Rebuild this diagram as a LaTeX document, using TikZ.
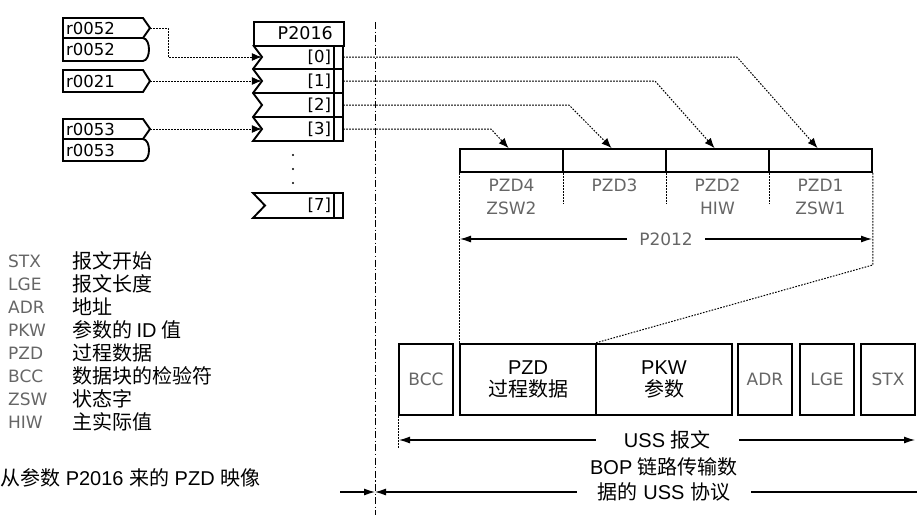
\documentclass[tikz,border=0pt]{standalone}
\usepackage{fontspec}
\setmainfont{Liberation Sans}
\newfontfamily\cjk{Noto Sans CJK SC}
\newfontfamily\dvfont{DejaVu Sans}
\newcommand{\zh}[1]{{\cjk #1}}
\usetikzlibrary{arrows.meta}

\begin{document}
\begin{tikzpicture}[x=1pt,y=-1pt,
        box/.style={draw,line width=1.9pt,inner sep=0pt},
        dots/.style={line width=1pt,dash pattern=on 1.6pt off 1.4pt},
        conn/.style={dots,-{Latex[length=10pt,width=8pt]}},
        dimline/.style={line width=1.1pt,{Latex[length=11pt,width=7pt]}-{Latex[length=11pt,width=7pt]}},
        glabel/.style={text=black!60,font=\dvfont\fontsize{17}{23}\selectfont,inner sep=0pt,align=center},
        legend/.style={text=black!60,font=\dvfont\fontsize{17}{17}\selectfont,inner sep=0pt,anchor=west},
        blabel/.style={font=\dvfont\fontsize{16.5}{16.5}\selectfont,inner sep=0pt},
        big/.style={font=\fontsize{20}{22}\selectfont,align=center,inner sep=0pt},
        cell/.style={box,minimum width=103pt,minimum height=23pt},
        slot/.style={box,minimum width=54pt,minimum height=71pt},
        wide/.style={box,big,minimum width=136pt,minimum height=71pt},
        rowcell/.style={blabel,minimum width=81pt,minimum height=24pt,text width=57pt,align=right}]
    \useasboundingbox (0,0) rectangle (917,515);

    % signal sources
    \draw[box] (63,18) -- (143,18) -- (150,28) -- (143,38) -- (63,38) -- cycle;
    \draw[box] (63,38) -- (143,38) .. controls (151,39) and (151,60) .. (143,61) -- (63,61) -- cycle;
    \draw[box] (63,70) -- (143,70) -- (150,81) -- (143,92) -- (63,92) -- cycle;
    \draw[box] (63,119) -- (143,119) -- (150,129) -- (143,139) -- (63,139) -- cycle;
    \draw[box] (63,139) -- (143,139) .. controls (151,140) and (151,160) .. (143,161) -- (63,161) -- cycle;
    \node[blabel,anchor=west] (r52a) at (66,28) {r0052};
    \node[blabel,anchor=west] (r52b) at (66,49.5) {r0052};
    \node[blabel,anchor=west] (r21) at (66,81) {r0021};
    \node[blabel,anchor=west] (r53a) at (66,129) {r0053};
    \node[blabel,anchor=west] (r53b) at (66,150) {r0053};
    \coordinate (r52tip) at (150,28);
    \coordinate (r21tip) at (150,81);
    \coordinate (r53tip) at (150,129);

    % P2016 block
    \node[box,minimum width=90pt,minimum height=24pt,anchor=north west] (p2016) at (253,21) {};
    \node[blabel,anchor=east,font=\dvfont\fontsize{17.5}{17.5}\selectfont] (p2016txt) at (333,33) {P2016};
    \draw[box] (253,45) -- (262,57) -- (253,69) -- (262,81) -- (253,93) -- (262,105)
        -- (253,117) -- (262,129) -- (253,141) -- (343,141) -- (343,45);
    \draw[box] (253,69) -- (343,69) (253,93) -- (343,93) (253,117) -- (343,117);
    \draw[line width=1.2pt] (334,45) -- (334,141);
    \node[rowcell] (row0) at (302.5,57) {[0]};
    \node[rowcell] (row1) at (302.5,81) {[1]};
    \node[rowcell] (row2) at (302.5,105) {[2]};
    \node[rowcell] (row3) at (302.5,129) {[3]};
    \foreach \y in {155,169,183} \fill (293,\y) circle (1.1pt);
    \draw[box] (253,193) -- (343,193) -- (343,218) -- (253,218) -- (265,205.5) -- cycle;
    \draw[line width=1.2pt] (334,193) -- (334,218);
    \node[rowcell] (row7) at (302.5,205.5) {[7]};

    \draw[line width=1pt,dash pattern=on 7pt off 2.5pt on 1.2pt off 2.5pt] (375,22) -- (375,515);

    \draw[conn] (r52tip) -- ++(18,0) |- (row0.west);
    \draw[conn] (r21tip) -- (row1.west);
    \draw[conn] (r53tip) -- (row3.west);

    % PZD words
    \node[cell] (pzd4) at (511.5,160.5) {};
    \node[cell] (pzd3) at (614.5,160.5) {};
    \node[cell] (pzd2) at (717.5,160.5) {};
    \node[cell] (pzd1) at (820.5,160.5) {};
    \node[glabel] (zsw2) at (511.5,196.5) {PZD4\\ZSW2};
    \node[glabel] (pzd3txt) at (614.5,185) {PZD3};
    \node[glabel] (hiw) at (717.5,196.5) {PZD2\\HIW};
    \node[glabel] (zsw1) at (820.5,196.5) {PZD1\\ZSW1};
    \draw[dots] (pzd4.south east) -- ++(0,31);
    \draw[dots] (pzd3.south east) -- ++(0,31);
    \draw[dots] (pzd2.south east) -- ++(0,31);

    \draw[conn] (row0.east) -- (737,57) -- ([xshift=-3pt]pzd1.north);
    \draw[conn] (row1.east) -- (655,81) -- ([xshift=-3pt]pzd2.north);
    \draw[conn] (row2.east) -- (569,105) -- ([xshift=-3pt]pzd3.north);
    \draw[conn] (row3.east) -- (491,129) -- ([xshift=-3pt]pzd4.north);

    \coordinate (dimL) at (460,239);
    \coordinate (dimR) at (872,239);
    \draw[dimline] (dimL) -- node[glabel,fill=white,inner xsep=12pt] (p2012) {P2012} (dimR);

    % USS telegram
    \node[slot,glabel] (bcc) at (426,379.5) {BCC};
    \node[wide] (pzdf) at (528,379.5) {PZD\\\zh{过程数据}};
    \node[wide] (pkw) at (664,379.5) {PKW\\\zh{参数}};
    \node[slot,glabel] (adr) at (765,379.5) {ADR};
    \node[slot,glabel] (lge) at (827,379.5) {LGE};
    \node[slot,glabel] (stx) at (888,379.5) {STX};
    \draw[dots] (pzd4.south west) -- (pzdf.north west);
    \draw[dots] (pzd1.south east) -- ++(0,92) -- (pkw.north west);
    \draw[dots] (bcc.south west) -- ++(0,32);

    \coordinate (ussL) at (399,440);
    \coordinate (ussR) at (915,440);
    \draw[dimline] (ussL) -- node[big,fill=white,inner xsep=28pt,pos=0.52] (uss) {USS \zh{报文}} (ussR);

    \coordinate (busL) at (340,492);
    \coordinate (busM) at (375,492);
    \coordinate (busR) at (917,492);
    \draw[line width=1.1pt,-{Latex[length=11pt,width=7pt]}] (busL) -- (busM);
    \draw[line width=1.1pt,{Latex[length=11pt,width=7pt]}-] (busM) -- (busR);
    \node[big,font=\fontsize{20}{25}\selectfont,fill=white,inner xsep=13pt] (bop) at (664,479.5)
        {BOP \zh{链路传输数}\\\zh{据的} USS \zh{协议}};

    % legend
    \foreach \ab/\txt [count=\i from 0] in {STX/报文开始,LGE/报文长度,ADR/地址,PKW/{参数的 {\rmfamily ID} 值},
            PZD/过程数据,BCC/数据块的检验符,ZSW/状态字,HIW/主实际值} {
        \node[legend] (ab\i) at (8,{261+23*\i}) {\ab};
        \node[anchor=west,inner sep=0pt,font=\cjk\fontsize{20}{20}\selectfont] (zh\i) at (72,{261+23*\i}) {\txt};
    }
    \node[anchor=west,inner sep=0pt,font=\fontsize{20}{20}\selectfont] (caption) at (0,478)
        {\zh{从参数} P2016 \zh{来的} PZD \zh{映像}};
\end{tikzpicture}
\end{document}
